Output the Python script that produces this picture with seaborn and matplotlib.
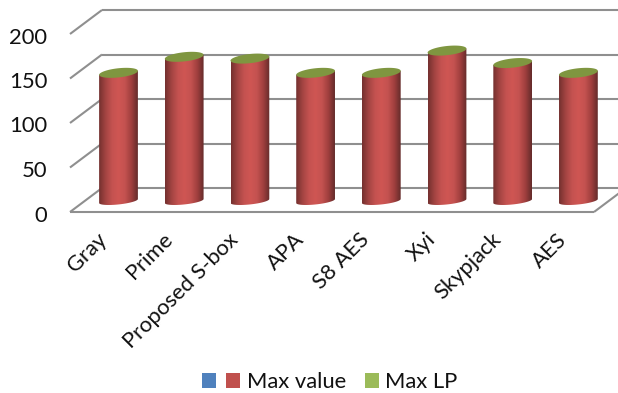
import numpy as np
import pandas as pd
import matplotlib
matplotlib.use("Agg")
import matplotlib.pyplot as plt
from matplotlib.colors import LinearSegmentedColormap
from matplotlib.patches import Patch, PathPatch, Polygon
from matplotlib.path import Path
from matplotlib.transforms import ScaledTranslation
import seaborn as sns

# Chart content
categories = ["Gray", "Prime", "Proposed S-box", "APA", "S8 AES", "Xyi", "Skypjack", "AES"]
max_value = [144, 162, 160, 144, 144, 169, 155, 144]
tick_values = [0, 50, 100, 150, 200]
series_names = ["", "Max value", "Max LP"]
series_colors = ["#4f81bd", "#c0504d", "#9bbb59"]

# Figure layout in pixels
W, H = 618, 393
AX_LEFT, AX_BOTTOM_Y = 60, 212
SLOT = 65.7
FIRST_CENTER = 118.5
PX_PER_UNIT = 0.89
BASE_Y = 201

sns.set_theme(style="white")
plt.rcParams["font.family"] = ["Lato", "DejaVu Sans"]

fig = plt.figure(figsize=(W / 100, H / 100), dpi=100)
ax = fig.add_axes([AX_LEFT / W, 1 - AX_BOTTOM_Y / H, 1 - AX_LEFT / W, AX_BOTTOM_Y / H])

df = pd.DataFrame({"category": categories, "value": max_value})
sns.barplot(data=df, x="category", y="value", color=series_colors[1], width=0.59,
            saturation=1, ax=ax, zorder=3)

def xd(px):
    return (px - FIRST_CENTER) / SLOT

xlim = (xd(AX_LEFT), xd(W))
ylim = ((BASE_Y - AX_BOTTOM_Y) / PX_PER_UNIT, BASE_Y / PX_PER_UNIT)

# Oblique box: each value sits on a back wall and a front edge around the bar plane
back = (BASE_Y - 188) / PX_PER_UNIT
front = (BASE_Y - 212) / PX_PER_UNIT
x_back_left, x_front_left = xd(102), xd(70)
x_front_right, x_back_right = xd(594), xd(626)
grid_kw = dict(color="#8f8f8f", lw=1.5, clip_on=False, zorder=1, solid_capstyle="butt")
for v in tick_values:
    ax.plot([x_front_left, x_back_left], [v + front, v + back], **grid_kw)
    ax.plot([x_back_left, x_back_right + 1], [v + back, v + back], **grid_kw)
ax.plot([x_front_left, x_front_right], [front, front], **grid_kw)
ax.plot([x_front_right, x_back_right], [front, back], **grid_kw)

# Cylinders: shaded body clipped to an outline with elliptical ends
shade = LinearSegmentedColormap.from_list(
    "cyl", ["#74302f", "#a34442", "#c45250", "#cf5653", "#c45250", "#a03f3e", "#642b2a"])
ramp = np.linspace(0, 1, 128).reshape(1, -1)
b_units = 4.6 / PX_PER_UNIT
s_units = 2.0 / PX_PER_UNIT
t = np.linspace(0, 2 * np.pi, 121)

for patch in list(ax.patches):
    x0, w, h = patch.get_x(), patch.get_width(), patch.get_height()
    cx, a = x0 + w / 2, w / 2
    tb = np.linspace(np.pi, 2 * np.pi, 60)
    ex = cx + a * np.cos(tb)
    bottom_y = b_units * 0.75 * np.sin(tb) + s_units * np.cos(tb)
    top_y = h + s_units * np.cos(tb[::-1])
    outline = np.vstack([np.column_stack([ex, bottom_y]),
                         np.column_stack([ex[::-1], top_y])])
    clip = Polygon(outline, closed=True, transform=ax.transData, fc="none", ec="none")
    ax.add_patch(clip)
    im = ax.imshow(ramp, extent=(x0, x0 + w, -10, h + 10), aspect="auto", cmap=shade,
                   origin="lower", zorder=4)
    im.set_clip_path(clip)
    patch.set_visible(False)
    lid = np.column_stack([cx + a * np.cos(t), h + b_units * np.sin(t) + s_units * np.cos(t)])
    ax.add_patch(PathPatch(Path(lid), fc="#7f9640", ec="none", zorder=5))

ax.set_xlim(xlim)
ax.set_ylim(ylim)
for spine in ax.spines.values():
    spine.set_visible(False)
ax.set_xlabel("")
ax.set_ylabel("")
ax.patch.set_alpha(0)

ax.set_yticks([v + front for v in tick_values], [str(v) for v in tick_values])
ax.tick_params(axis="y", length=0, pad=9.2, labelsize=15.8, labelcolor="#111111")
y_shift = ScaledTranslation(0, -1.5 / 100, fig.dpi_scale_trans)
for lab in ax.get_yticklabels():
    lab.set_transform(lab.get_transform() + y_shift)

ax.set_xticks(range(len(categories)), categories)
ax.tick_params(axis="x", length=0, pad=12.5, labelsize=15.8, labelcolor="#111111")
x_shift = ScaledTranslation(-22 / 100, 0, fig.dpi_scale_trans)
for lab in ax.get_xticklabels():
    lab.set_rotation(45)
    lab.set_ha("right")
    lab.set_rotation_mode("anchor")
    lab.set_transform(lab.get_transform() + x_shift)

# The unnamed series takes a key of its own, closer to its neighbour
handles = [Patch(fc=c, ec="none") for c in series_colors]
key_kw = dict(loc="center left", frameon=False, fontsize=15.8, handlelength=0.64,
              handleheight=0.64, handletextpad=0.3, labelcolor="#111111",
              borderpad=0, borderaxespad=0)
fig.legend(handles[:1], series_names[:1], bbox_to_anchor=(202 / W, 1 - 382 / H), **key_kw)
fig.legend(handles[1:], series_names[1:], bbox_to_anchor=(226 / W, 1 - 382 / H), ncol=2,
           columnspacing=0.85, **key_kw)

fig.savefig("out.png", dpi=100)
